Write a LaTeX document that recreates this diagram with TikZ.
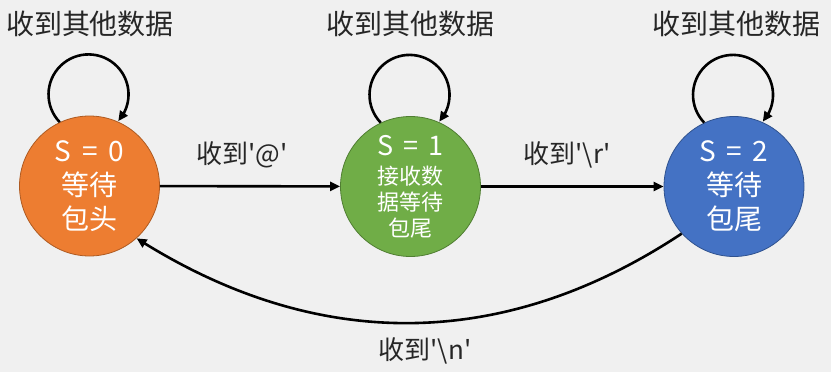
\documentclass[tikz,border=0pt]{standalone}
\usepackage{fontspec}
\setmainfont{Noto Sans CJK SC}[Ligatures=TeXOff]
\usetikzlibrary{arrows.meta,bending}
\definecolor{bg}{HTML}{F0F0F0}
\definecolor{sorange}{HTML}{ED7D31}
\definecolor{sorangeD}{HTML}{AE5A21}
\definecolor{sgreen}{HTML}{70AD47}
\definecolor{sgreenD}{HTML}{507E32}
\definecolor{sblue}{HTML}{4472C4}
\definecolor{sblueD}{HTML}{2F528F}
\definecolor{ink}{HTML}{262626}
\newcommand{\eqsp}{\hskip0.38em}
\begin{document}
\begin{tikzpicture}[x=1pt,y=1pt,
  state/.style={circle, minimum size=140pt, inner sep=0pt, draw, line width=0.8pt, text=white, align=center},
  lab/.style={inner sep=0pt, text=ink, font=\fontsize{26}{30}\selectfont},
  toplab/.style={inner sep=0pt, text=ink, font=\fontsize{28}{32}\selectfont},
  conn/.style={line width=2.6pt, draw=black, -{Triangle[length=10pt,width=9pt]}},
  loopc/.style={line width=2.6pt, draw=black, -{Triangle[length=10pt,width=9pt]}}
]
\fill[bg] (0,0) rectangle (831,-372);
\useasboundingbox (0,0) rectangle (831,-372);

\node[state, fill=sorange, draw=sorangeD, font=\fontsize{28}{34}\selectfont] (s0) at (89.5,-186) {S\eqsp=\eqsp0\\等待\\包头};
\node[state, fill=sgreen, draw=sgreenD, font=\fontsize{22}{26}\selectfont] (s1) at (410.5,-186.5) {{\fontsize{27}{30}\selectfont S\eqsp=\eqsp1}\\[3pt]接收数\\据等待\\包尾};
\node[state, fill=sblue, draw=sblueD, font=\fontsize{28}{34}\selectfont] (s2) at (734,-186.5) {S\eqsp=\eqsp2\\等待\\包尾};

\node[toplab] (t0) at (90,-24) {收到其他数据};
\node[toplab] (t1) at (410,-24) {收到其他数据};
\node[toplab] (t2) at (736,-24) {收到其他数据};

\node[lab] (l01) at (242,-155) {收到'@'};
\node[lab] (l12) at (567,-155) {收到'\textbackslash r'};
\node[lab] (l20) at (425,-351) {收到'\textbackslash n'};

\draw[loopc] (s0.115) arc[start angle=224, end angle=-42, radius=40];
\draw[loopc] (s1.115) arc[start angle=224, end angle=-42, radius=40];
\draw[loopc] (s2.115) arc[start angle=224, end angle=-42, radius=40];

\draw[conn] (s0) -- (s1);
\draw[conn] (s1) -- (s2);
\draw[conn] (s2.222) to[bend left=33] (s0.-48);
\end{tikzpicture}
\end{document}
